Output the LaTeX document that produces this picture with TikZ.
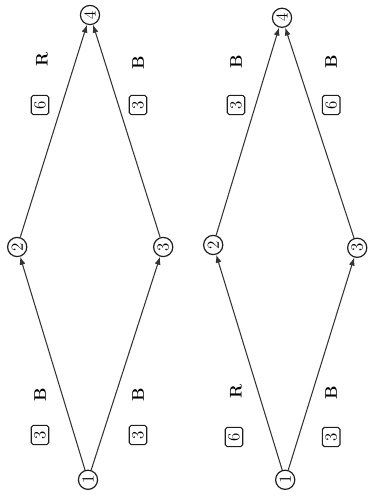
\documentclass[tikz,border=0pt]{standalone}
\usepackage{amsmath,amssymb}
\usepackage{xcolor}
\usepackage{tikz}
\usetikzlibrary{arrows.meta}
\definecolor{inkdraw}{HTML}{1E1E1E}
\definecolor{edgecolor}{HTML}{333333}
\tikzset{
  >=Latex,
  vertex/.style={
    circle,
    draw=inkdraw,
    line width=0.85pt,
    minimum size=4.8mm,
    inner sep=0pt,
    rotate=90,
    font=\large
  },
  weight box/.style={
    rectangle,
    rounded corners=1.4pt,
    draw=inkdraw,
    line width=0.8pt,
    minimum width=4.8mm,
    minimum height=4.4mm,
    inner sep=0pt,
    rotate=90,
    font=\large
  },
  colour label/.style={
    rotate=90,
    inner sep=0pt,
    font=\bfseries\large
  },
  connection/.style={
    draw=edgecolor,
    line width=0.75pt,
    -{Latex[length=2mm,width=1.5mm]}
  }
}
\newcommand{\connectdiamond}[1]{%
  \draw[connection] (#1-1) -- (#1-2);
  \draw[connection] (#1-1) -- (#1-3);
  \draw[connection] (#1-2) -- (#1-4);
  \draw[connection] (#1-3) -- (#1-4);
}

\begin{document}
\begin{tikzpicture}[x=1cm,y=1cm]
  \useasboundingbox (0,0) rectangle (9.20,12.475);

  % left diamond
  \node[vertex] (A-1) at (2.20,0.48) {1};
  \node[vertex] (A-2) at (0.43,6.30) {2};
  \node[vertex] (A-3) at (4.08,6.30) {3};
  \node[vertex] (A-4) at (2.25,12.10) {4};
  \connectdiamond{A}

  \node[weight box] (A-w12) at (1.00,1.60) {3};
  \node[colour label] (A-c12) at (1.00,2.60) {B};
  \node[weight box] (A-w13) at (3.45,1.60) {3};
  \node[colour label] (A-c13) at (3.45,2.60) {B};
  \node[weight box] (A-w24) at (1.00,9.85) {6};
  \node[colour label] (A-c24) at (1.05,10.98) {R};
  \node[weight box] (A-w34) at (3.45,9.85) {3};
  \node[colour label] (A-c34) at (3.45,10.90) {B};

  % right diamond
  \node[vertex] (B-1) at (7.13,0.48) {1};
  \node[vertex] (B-2) at (5.33,6.35) {2};
  \node[vertex] (B-3) at (8.93,6.28) {3};
  \node[vertex] (B-4) at (7.05,12.03) {4};
  \connectdiamond{B}

  \node[weight box] (B-w12) at (5.85,1.55) {6};
  \node[colour label] (B-c12) at (5.90,2.68) {R};
  \node[weight box] (B-w13) at (8.28,1.55) {3};
  \node[colour label] (B-c13) at (8.28,2.65) {B};
  \node[weight box] (B-w24) at (5.90,9.85) {3};
  \node[colour label] (B-c24) at (5.90,10.93) {B};
  \node[weight box] (B-w34) at (8.28,9.85) {6};
  \node[colour label] (B-c34) at (8.28,10.93) {B};
\end{tikzpicture}
\end{document}
